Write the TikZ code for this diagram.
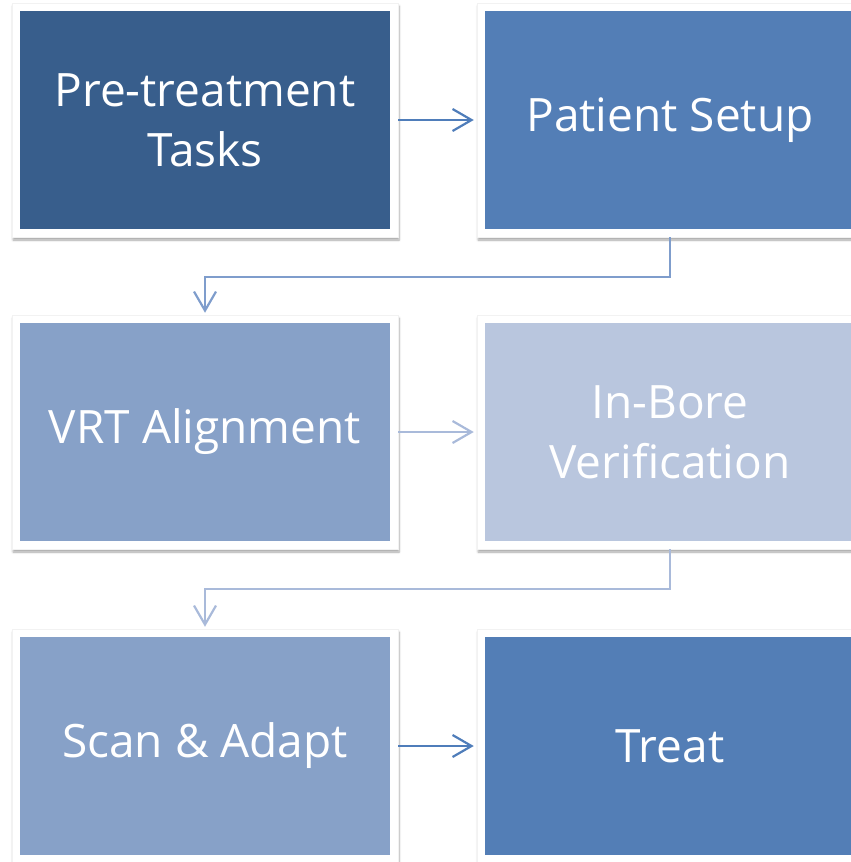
\documentclass[tikz,border=0pt]{standalone}
\usepackage{fontspec}
\setmainfont{Open Sans}
\usetikzlibrary{arrows.meta,shadows.blur,calc}
\definecolor{cA}{HTML}{385E8C}
\definecolor{cB}{HTML}{537EB6}
\definecolor{cC}{HTML}{87A1C8}
\definecolor{cD}{HTML}{B9C6DE}
\definecolor{aA}{HTML}{4F7DBA}
\definecolor{aB}{HTML}{7F9DCC}
\definecolor{aC}{HTML}{A9BADA}
\tikzset{
  frame/.style={fill=white, draw=black!5, line width=0.5pt, minimum width=386pt, minimum height=234pt, inner sep=0pt,
    blur shadow={shadow xshift=1pt, shadow yshift=-3pt, shadow blur steps=6, shadow opacity=35}},
  box/.style={minimum width=370pt, minimum height=218pt, inner sep=0pt, text=white, align=center,
    font=\fontsize{46}{60}\selectfont},
  conn/.style={line width=2.2pt, -{Straight Barb[length=19pt,width=22pt,line width=2.2pt]}},
}
\begin{document}
\begin{tikzpicture}[x=1pt,y=-1pt]
\useasboundingbox (0,0) rectangle (851,862);
\clip (0,0) rectangle (851,862);
% frames
\node[frame] (f1) at (205,120) {};
\node[frame] (f2) at (670,120) {};
\node[frame] (f3) at (205,432) {};
\node[frame] (f4) at (670,432) {};
\node[frame] (f5) at (205,746) {};
\node[frame] (f6) at (670,746) {};
% boxes
\node[box, fill=cA] (b1) at (f1.center) {Pre-treatment\\Tasks};
\node[box, fill=cB] (b2) at (f2.center) {Patient Setup};
\node[box, fill=cC] (b3) at (f3.center) {VRT Alignment};
\node[box, fill=cD] (b4) at (f4.center) {In-Bore\\Verification};
\node[box, fill=cC] (b5) at (f5.center) {Scan \& Adapt};
\node[box, fill=cB] (b6) at (f6.center) {Treat};
% connectors
\draw[conn, aA, shorten >=3pt] (f1.east) -- (f2.west);
\draw[conn, aB, shorten >=2pt] (f2.south) -- ++(0,40) -| (f3.north);
\draw[conn, aC, shorten >=3pt] (f3.east) -- (f4.west);
\draw[conn, aC, shorten >=2pt] (f4.south) -- ++(0,40) -| (f5.north);
\draw[conn, aA, shorten >=3pt] (f5.east) -- (f6.west);
\end{tikzpicture}
\end{document}
